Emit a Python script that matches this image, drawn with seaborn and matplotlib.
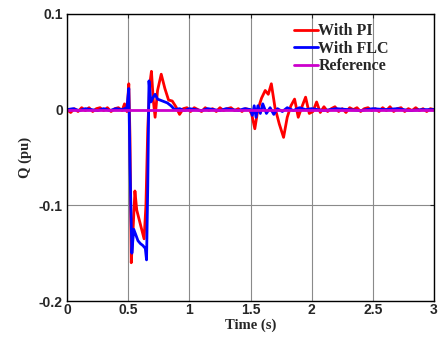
import matplotlib
matplotlib.use("Agg")
import matplotlib.pyplot as plt
import seaborn as sns
import numpy as np

sns.set_style("white")

# PI response (red)
pi_t = [0.00, 0.03, 0.06, 0.09, 0.12, 0.15, 0.18, 0.21, 0.24, 0.27, 0.30, 0.33, 0.36, 0.39, 0.42, 0.45,
        0.47, 0.49, 0.505, 0.515, 0.525, 0.54, 0.555, 0.57, 0.59, 0.61, 0.63, 0.645, 0.66, 0.675, 0.69,
        0.705, 0.72, 0.74, 0.77, 0.80, 0.83, 0.86, 0.89, 0.92, 0.95, 0.98, 1.01, 1.04, 1.07, 1.10, 1.13,
        1.16, 1.19, 1.22, 1.25, 1.28, 1.31, 1.34, 1.37, 1.40, 1.43, 1.46, 1.49, 1.51, 1.535, 1.56, 1.59,
        1.62, 1.645, 1.67, 1.70, 1.735, 1.77, 1.80, 1.83, 1.86, 1.89, 1.92, 1.95, 1.98, 2.01, 2.04, 2.07,
        2.10, 2.13, 2.16, 2.19, 2.22, 2.25, 2.28, 2.31, 2.34, 2.37, 2.40, 2.43, 2.46, 2.49, 2.52, 2.55,
        2.58, 2.61, 2.64, 2.67, 2.70, 2.73, 2.76, 2.79, 2.82, 2.85, 2.88, 2.91, 2.94, 2.97, 3.00]
pi_v = [0.000, -0.003, 0.001, -0.002, 0.002, -0.001, 0.002, -0.002, 0.001, 0.002, -0.001, 0.002, -0.002, 0.001, 0.002, -0.001,
        0.006, -0.002, 0.027, -0.03, -0.160, -0.125, -0.085, -0.105, -0.115, -0.125, -0.135, -0.10, -0.02, 0.025, 0.040,
        0.010, -0.008, 0.020, 0.037, 0.022, 0.010, 0.009, 0.003, -0.005, 0.001, 0.002, -0.002, 0.002, 0.000, -0.002, 0.002,
        -0.001, 0.001, -0.002, 0.002, -0.001, 0.001, 0.002, -0.001, 0.001, -0.002, 0.001, 0.000, -0.005, -0.020, 0.000, 0.012,
        0.020, 0.016, 0.027, 0.002, -0.015, -0.029, -0.008, 0.004, 0.011, -0.008, 0.003, 0.013, -0.004, -0.002, 0.008, -0.003,
        0.003, -0.002, 0.001, 0.003, -0.002, 0.001, -0.003, 0.002, 0.000, 0.002, -0.002, 0.001, 0.002, -0.001, 0.001, -0.002,
        0.002, -0.001, 0.003, -0.002, 0.001, 0.002, -0.002, 0.001, -0.001, 0.002, -0.001, 0.001, -0.002, 0.001, 0.000]

# FLC response (blue)
flc_t = [0.00, 0.05, 0.10, 0.15, 0.20, 0.25, 0.30, 0.35, 0.40, 0.45, 0.49, 0.505, 0.515, 0.53, 0.545, 0.56,
         0.58, 0.60, 0.62, 0.64, 0.65, 0.66, 0.67, 0.685, 0.70, 0.72, 0.74, 0.78, 0.82, 0.85, 0.88, 0.92,
         0.96, 1.00, 1.05, 1.10, 1.15, 1.20, 1.25, 1.30, 1.35, 1.40, 1.45, 1.50, 1.515, 1.53, 1.545, 1.56,
         1.58, 1.60, 1.63, 1.66, 1.69, 1.72, 1.76, 1.80, 1.85, 1.90, 1.95, 2.00, 2.10, 2.20, 2.30, 2.40,
         2.50, 2.60, 2.70, 2.80, 2.90, 3.00]
flc_v = [0.000, 0.001, -0.001, 0.001, 0.000, -0.001, 0.001, -0.001, 0.001, 0.000, 0.002, 0.022, -0.06, -0.150, -0.125, -0.130,
         -0.137, -0.140, -0.142, -0.145, -0.157, -0.08, 0.030, 0.008, 0.012, 0.016, 0.011, 0.009, 0.007, 0.004, 0.000, 0.001,
         -0.001, 0.001, 0.000, -0.001, 0.001, 0.000, -0.001, 0.001, 0.000, -0.001, 0.001, 0.000, -0.006, 0.004, -0.008, 0.004,
         -0.004, 0.006, -0.004, 0.002, -0.005, 0.001, -0.002, 0.002, -0.001, 0.002, 0.000, 0.001, -0.001, 0.001, 0.000, -0.001,
         0.001, 0.000, 0.001, -0.001, 0.000, 0.000]

ref_t = [0.0, 3.0]
ref_v = [0.0, 0.0]

xticks = [0, 0.5, 1, 1.5, 2, 2.5, 3]
xtick_labels = ["0", "0.5", "1", "1.5", "2", "2.5", "3"]
yticks = [-0.2, -0.1, 0, 0.1]
ytick_labels = ["-0.2", "-0.1", "0", "0.1"]

fig = plt.figure(figsize=(4.38, 3.39), dpi=100)
ax = fig.add_axes([0.153, 0.112, 0.838, 0.847])

ax.grid(True, color="#8a8a8a", linewidth=0.8)
ax.set_axisbelow(True)

sns.lineplot(x=pi_t, y=pi_v, ax=ax, color="#ff0000", linewidth=2.0, sort=False, estimator=None, label="With PI")
sns.lineplot(x=flc_t, y=flc_v, ax=ax, color="#0000ff", linewidth=2.0, sort=False, estimator=None, label="With FLC")
sns.lineplot(x=ref_t, y=ref_v, ax=ax, color="#cc00cc", linewidth=2.0, sort=False, estimator=None, label="Reference")

ax.set_xlim(0, 3)
ax.set_ylim(-0.2, 0.1)
ax.set_xticks(xticks)
ax.set_xticklabels(xtick_labels, fontsize=10, fontweight="bold", family="Liberation Sans")
ax.set_yticks(yticks)
ax.set_yticklabels(ytick_labels, fontsize=10, fontweight="bold", family="Liberation Sans")
ax.tick_params(direction="in", length=3, top=True, right=True, width=0.8)
ax.tick_params(axis="x", pad=1.5)
ax.tick_params(axis="y", pad=3)
for s in ax.spines.values():
    s.set_color("black")
    s.set_linewidth(1.0)

ax.set_xlabel("Time (s)", fontsize=10.5, fontweight="bold", family="Liberation Serif", labelpad=1)
ax.set_ylabel("Q (pu)", fontsize=10.5, fontweight="bold", family="Liberation Serif", labelpad=5)

leg = ax.legend(loc="upper left", bbox_to_anchor=(0.6, 0.99), frameon=False, handlelength=1.5,
                handletextpad=0.05, labelspacing=0.1, borderaxespad=0.0,
                prop={"family": "Liberation Serif", "weight": "bold", "size": 11.5})

fig.savefig("out.png", dpi=100)
